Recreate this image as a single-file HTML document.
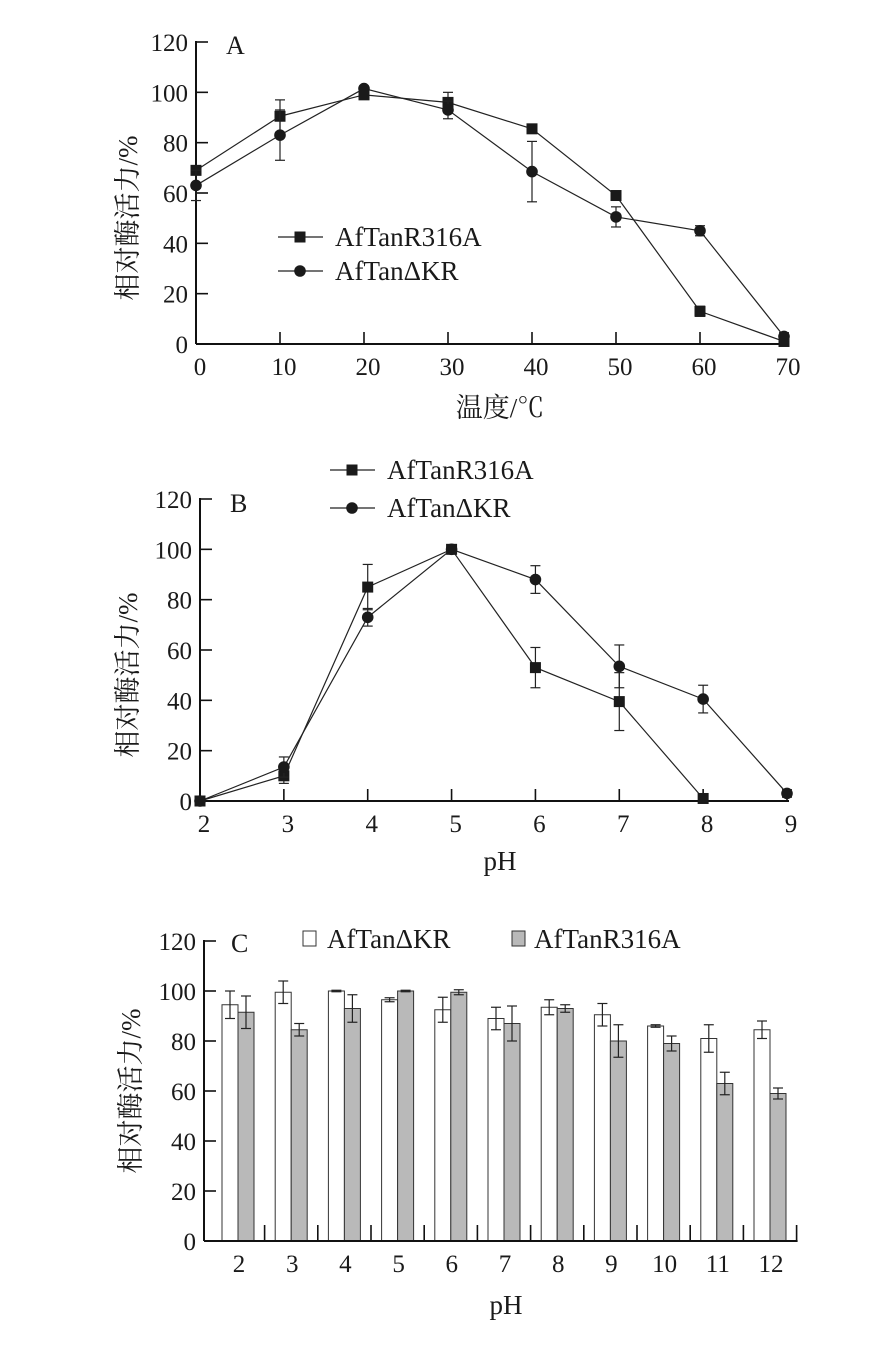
<!DOCTYPE html>
<html><head><meta charset="utf-8">
<style>
html,body{margin:0;padding:0;background:#fff;}
svg{display:block;font-family:"Liberation Serif","Noto Serif CJK SC",serif;}
text{fill:#1a1a1a;}
</style></head>
<body>
<svg id="s" width="878" height="1358" viewBox="0 0 878 1358" xmlns="http://www.w3.org/2000/svg"></svg>
<script>
// ---- Chart A data (temperature) ----
const aCats = [0,10,20,30,40,50,60,70];
const aR316A = [69,90.5,99,96,85.5,59,13,1];
const aR316AErr = [1.5,6.5,1.5,4,1,1,2,1];
const aDKR = [63,83,101.5,93,68.5,50.5,45,3];
const aDKRErr = [6,10,1,3.5,12,4,2,1.5];
const aYTicks = [0,20,40,60,80,100,120];
// ---- Chart B data (pH) ----
const bCats = [2,3,4,5,6,7,8,9];
const bR316A = [0,10,85,100,53,39.5,1];
const bR316AErr = [0.5,3,9,1,8,11.5,1];
const bDKR = [0,13.5,73,100,88,53.5,40.5,3];
const bDKRErr = [0.5,4,3.5,1,5.5,8.5,5.5,1.5];
const bYTicks = [0,20,40,60,80,100,120];
// ---- Chart C data (pH stability) ----
const cCats = [2,3,4,5,6,7,8,9,10,11,12];
const cDKR = [94.5,99.5,100,96.5,92.5,89,93.5,90.5,86,81,84.5];
const cDKRErr = [5.5,4.5,0.3,0.8,5,4.5,3,4.5,0.5,5.5,3.5];
const cR316A = [91.5,84.5,93,100,99.5,87,93,80,79,63,59];
const cR316AErr = [6.5,2.5,5.5,0.3,1,7,1.5,6.5,3,4.5,2.2];
const cYTicks = [0,20,40,60,80,100,120];

const NS="http://www.w3.org/2000/svg";
const svg=document.getElementById('s');
function mk(tag,attrs,parent){const e=document.createElementNS(NS,tag);for(const k in attrs)e.setAttribute(k,attrs[k]);(parent||svg).appendChild(e);return e;}
function txt(str,x,y,size,anchor,parent){const t=mk('text',{x:x,y:y,'font-size':size,'text-anchor':anchor||'middle'},parent);t.textContent=str;return t;}

function yTitle(g,x,cy){
  const t=mk('text',{x:0,y:0,'font-size':27,'text-anchor':'middle',transform:`translate(${x},${cy}) rotate(-90)`},g);
  
  
  t.textContent='相对酶活力/%';
}
function errBar(g,x,y1,y2){
  mk('line',{x1:x,y1:y1,x2:x,y2:y2,stroke:'#222','stroke-width':1.2},g);
  mk('line',{x1:x-5,y1:y1,x2:x+5,y2:y1,stroke:'#222','stroke-width':1.2},g);
  mk('line',{x1:x-5,y1:y2,x2:x+5,y2:y2,stroke:'#222','stroke-width':1.2},g);
}
function marker(g,kind,x,y){
  if(kind==='sq') return mk('rect',{x:x-5.5,y:y-5.5,width:11,height:11,fill:'#1a1a1a'},g);
  return mk('circle',{cx:x,cy:y,r:5.8,fill:'#1a1a1a'},g);
}

// line chart builder
function lineChart(name,x0,x1,y0,yTop,cats,xmin,xmax,series,ticks,label,labelPos,xtitle,xtitlePos,ytitleX){
  const g=mk('g',{});
  
  
  const X=v=>x0+(v-xmin)/(xmax-xmin)*(x1-x0);
  const Y=v=>y0-v/120*(y0-yTop);
  mk('line',{x1:x0,y1:yTop-1,x2:x0,y2:y0,stroke:'#111','stroke-width':2},g);
  mk('line',{x1:x0,y1:y0,x2:x1+2,y2:y0,stroke:'#111','stroke-width':2},g);
  ticks.forEach(v=>{
    mk('line',{x1:x0,y1:Y(v),x2:x0+12,y2:Y(v),stroke:'#111','stroke-width':1.6},g);
    txt(String(v),x0-8,Y(v)+9,25,'end',g);
  });
  cats.forEach(v=>{
    mk('line',{x1:X(v),y1:y0,x2:X(v),y2:y0-12,stroke:'#111','stroke-width':1.6},g);
    txt(String(v),X(v)+4,y0+31,25,'middle',g);
  });
  series.forEach(s=>{
    const sg=mk('g',{},g);
    
    
    const pts=s.vals.map((v,i)=>X(cats[i])+','+Y(v)).join(' ');
    mk('polyline',{points:pts,fill:'none',stroke:'#222','stroke-width':1.2},sg);
    s.vals.forEach((v,i)=>{errBar(sg,X(cats[i]),Y(v+s.err[i]),Y(v-s.err[i]));});
    s.vals.forEach((v,i)=>{
      const m=marker(sg,s.kind,X(cats[i]),Y(v));
      
      
    });
  });
  const l=txt(label,labelPos[0],labelPos[1],26,'start',g);
  
  
  const xt=txt(xtitle,xtitlePos[0],xtitlePos[1],27,'middle',g);
  
  
  yTitle(g,ytitleX,(y0+yTop)/2+25);
  return g;
}
function lineLegend(items){
  const g=mk('g',{});
  
  
  items.forEach(it=>{
    const e=mk('g',{},g);
    
    
    mk('line',{x1:it.x,y1:it.y,x2:it.x+45,y2:it.y,stroke:'#222','stroke-width':1.2},e);
    marker(e,it.kind,it.x+22,it.y);
    txt(it.t,it.x+57,it.y+9,27,'start',e);
  });
}

lineChart('chart-a-temperature',196,784,344,42,aCats,0,70,
  [{name:'series-r316a',kind:'sq',vals:aR316A,err:aR316AErr},{name:'series-dkr',kind:'ci',vals:aDKR,err:aDKRErr}],
  aYTicks,'A',[226,54],'温度/℃',[500,417],137);
lineLegend([{x:278,y:237,kind:'sq',t:'AfTanR316A'},{x:278,y:271,kind:'ci',t:'AfTanΔKR'}]);

lineChart('chart-b-ph',200,787,801,499,bCats,2,9,
  [{name:'series-r316a',kind:'sq',vals:bR316A,err:bR316AErr},{name:'series-dkr',kind:'ci',vals:bDKR,err:bDKRErr}],
  bYTicks,'B',[230,512],'pH',[500,870],137);
lineLegend([{x:330,y:470,kind:'sq',t:'AfTanR316A'},{x:330,y:508,kind:'ci',t:'AfTanΔKR'}]);

// ---- Chart C bar chart ----
(function(){
  const g=mk('g',{});
  
  
  const x0=204,y0=1241,yTop=941,c0=238,step=53.2,bw=16;
  const Y=v=>y0-v/120*(y0-yTop);
  const C=i=>c0+i*step;
  mk('line',{x1:x0,y1:yTop-1,x2:x0,y2:y0,stroke:'#111','stroke-width':2},g);
  cYTicks.forEach(v=>{
    mk('line',{x1:x0,y1:Y(v),x2:x0+12,y2:Y(v),stroke:'#111','stroke-width':1.6},g);
    txt(String(v),x0-8,Y(v)+9,25,'end',g);
  });
  cCats.forEach((c,i)=>{
    const w=mk('rect',{x:C(i)-bw,y:Y(cDKR[i]),width:bw,height:y0-Y(cDKR[i]),fill:'#fff',stroke:'#333','stroke-width':1},g);
    
    
    const r=mk('rect',{x:C(i),y:Y(cR316A[i]),width:bw,height:y0-Y(cR316A[i]),fill:'#b9b9b9',stroke:'#333','stroke-width':1},g);
    
    
    errBar(g,C(i)-bw/2,Y(cDKR[i]+cDKRErr[i]),Y(cDKR[i]-cDKRErr[i]));
    errBar(g,C(i)+bw/2,Y(cR316A[i]+cR316AErr[i]),Y(cR316A[i]-cR316AErr[i]));
    mk('line',{x1:C(i)+step/2,y1:y0,x2:C(i)+step/2,y2:y0-16,stroke:'#111','stroke-width':1.6},g);
    txt(String(c),C(i)+1,y0+31,25,'middle',g);
  });
  mk('line',{x1:x0,y1:y0,x2:C(cCats.length-1)+step/2+1,y2:y0,stroke:'#111','stroke-width':2},g);
  const l=txt('C',231,952,26,'start',g);
  
  
  const xt=txt('pH',506,1314,27,'middle',g);
  
  
  yTitle(g,140,1091);
  const lg=mk('g',{},g);
  
  
  mk('rect',{x:303,y:931,width:13,height:15,fill:'#fff',stroke:'#333','stroke-width':1},lg);
  txt('AfTanΔKR',327,948,27,'start',lg);
  mk('rect',{x:512,y:931,width:13,height:15,fill:'#b9b9b9',stroke:'#333','stroke-width':1},lg);
  txt('AfTanR316A',534,948,27,'start',lg);
})();
</script>
</body></html>
